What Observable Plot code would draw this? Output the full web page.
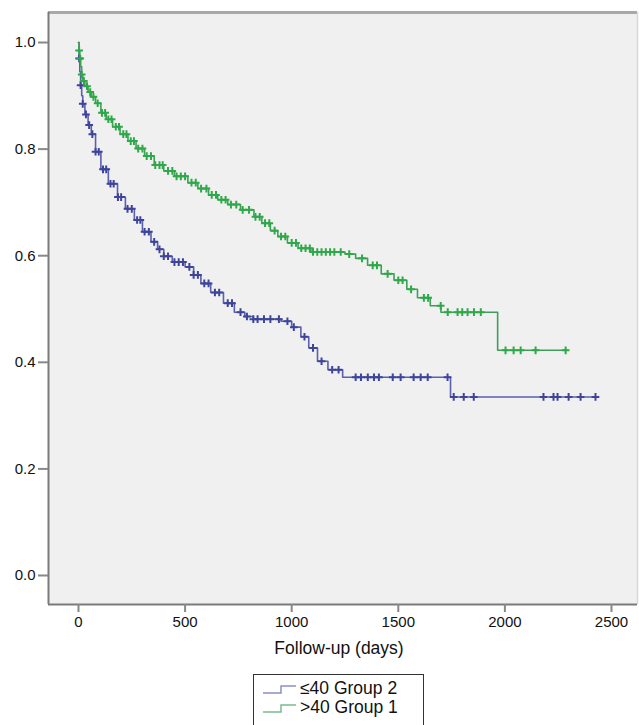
<!DOCTYPE html>
<html>
<head>
<meta charset="utf-8">
<script src="https://cdn.jsdelivr.net/npm/d3@7"></script>
<script src="https://cdn.jsdelivr.net/npm/@observablehq/plot@0.6"></script>
<style>
  body { margin: 0; background: #fff; font-family: "Liberation Sans", Arial, sans-serif; }
  #wrap { position: relative; width: 639px; height: 725px; overflow: hidden; }
  #legend { position: absolute; left: 253px; top: 674px; width: 171px; height: 60px;
            border: 1px solid #333; background: #fff; box-sizing: border-box;
            font-size: 17.5px; color: #111; padding-top: 4px; }
  #legend .row { height: 19px; line-height: 19px; display: flex; align-items: center; }
  #legend svg { margin-left: 9px; margin-right: 4px; }
</style>
</head>
<body>
<div id="wrap">
  <div id="chart"></div>
  <div id="legend"></div>
</div>
<script>
// ---- data ----
const groups = ["≤40 Group 2", ">40 Group 1"];
const colors = ["#3d4499", "#2fa84a"];
const lineColors = ["#5a60ac", "#3f9f58"];

// Group 2 (≤40) Kaplan–Meier steps
const g2Time = [0, 3, 6, 10, 15, 20, 30, 45, 60, 80, 105, 140, 183, 220, 262, 300, 340, 371, 400, 440, 500, 540, 574, 620, 680, 731, 780, 820, 950, 1000, 1043, 1080, 1121, 1170, 1239, 1745, 2434];
const g2Surv = [1.0, 0.97, 0.945, 0.92, 0.9, 0.885, 0.865, 0.845, 0.828, 0.795, 0.762, 0.735, 0.71, 0.688, 0.667, 0.645, 0.626, 0.612, 0.599, 0.588, 0.579, 0.564, 0.548, 0.531, 0.511, 0.494, 0.486, 0.481, 0.477, 0.466, 0.448, 0.427, 0.402, 0.386, 0.372, 0.335, 0.335];
const g2Censor = [3, 10, 20, 35, 50, 65, 80, 95, 115, 130, 150, 165, 185, 200, 230, 250, 275, 290, 310, 330, 355, 380, 400, 420, 450, 470, 490, 520, 540, 560, 590, 610, 640, 660, 700, 720, 760, 790, 820, 840, 870, 900, 940, 980, 1010, 1060, 1100, 1140, 1190, 1220, 1300, 1325, 1357, 1386, 1409, 1474, 1511, 1572, 1605, 1638, 1731, 1760, 1807, 1854, 2181, 2228, 2247, 2299, 2355, 2425];

// Group 1 (>40) Kaplan–Meier steps
const g1Time = [0, 3, 6, 10, 15, 20, 30, 45, 60, 80, 105, 130, 160, 195, 232, 270, 310, 355, 400, 450, 513, 560, 610, 653, 700, 760, 823, 860, 900, 935, 980, 1030, 1090, 1250, 1300, 1356, 1420, 1480, 1540, 1590, 1650, 1700, 1966, 2293];
const g1Surv = [1.0, 0.985, 0.97, 0.955, 0.94, 0.928, 0.918, 0.907, 0.898, 0.886, 0.868, 0.856, 0.842, 0.828, 0.815, 0.801, 0.787, 0.77, 0.759, 0.749, 0.737, 0.726, 0.714, 0.705, 0.696, 0.686, 0.673, 0.661, 0.647, 0.636, 0.624, 0.614, 0.607, 0.603, 0.595, 0.582, 0.566, 0.554, 0.537, 0.521, 0.506, 0.494, 0.4225, 0.4225];
const g1Censor = [3, 8, 15, 25, 40, 55, 70, 90, 110, 125, 140, 155, 175, 190, 210, 225, 245, 260, 280, 300, 320, 340, 360, 380, 395, 420, 440, 460, 480, 500, 530, 550, 575, 600, 625, 645, 670, 690, 715, 740, 770, 800, 830, 850, 875, 895, 920, 950, 970, 1000, 1020, 1045, 1065, 1085, 1100, 1120, 1140, 1160, 1180, 1200, 1230, 1270, 1330, 1380, 1400, 1450, 1500, 1520, 1560, 1620, 1640, 1699, 1732, 1778, 1800, 1825, 1855, 1887, 2003, 2041, 2074, 2144, 2285];

const xTicks = [0, 500, 1000, 1500, 2000, 2500];
const yTicks = [0.0, 0.2, 0.4, 0.6, 0.8, 1.0];
const xLabel = "Follow-up (days)";

// ---- build tables ----
function steps(times, surv, g) { return times.map((t, i) => ({t, s: surv[i], g})); }
function censors(ctimes, times, surv, g) {
  return ctimes.map(t => {
    const i = d3.bisectRight(times, t) - 1;
    return {t, s: surv[Math.max(0, i)], g};
  });
}
const lines = [...steps(g2Time, g2Surv, groups[0]), ...steps(g1Time, g1Surv, groups[1])];
const marks = [...censors(g2Censor, g2Time, g2Surv, groups[0]), ...censors(g1Censor, g1Time, g1Surv, groups[1])];

const chart = Plot.plot({
  width: 639,
  height: 668,
  marginLeft: 48,
  marginRight: 2,
  marginTop: 12,
  marginBottom: 64,
  style: {fontFamily: "'Liberation Sans', Arial, sans-serif", fontSize: "15px", color: "#111", background: "#fff"},
  x: {domain: [-140.7, 2622], ticks: xTicks, tickSize: 8, tickPadding: 4, label: null, tickFormat: d => String(d)},
  y: {domain: [-0.0544, 1.0563], ticks: yTicks, tickSize: 10, tickPadding: 3, label: null, tickFormat: d3.format(".1f")},
  color: {domain: groups, range: colors},
  marks: [
    Plot.frame({fill: "#f0f0f0", stroke: null}),
    Plot.ruleY([1.0563], {stroke: "#a8a8a8", strokeWidth: 3}),
    Plot.ruleX([2622], {stroke: "#d8d8d8", strokeWidth: 1.5}),
    Plot.ruleX([-140.7], {stroke: "#7a7a7a", strokeWidth: 2}),
    Plot.ruleY([-0.0544], {stroke: "#7a7a7a", strokeWidth: 2}),
    Plot.axisX({ticks: xTicks, tickSize: 8, tickPadding: 4, stroke: "#888", strokeWidth: 2, tickFormat: d => String(d)}),
    Plot.axisY({ticks: yTicks, tickSize: 10, tickPadding: 3, stroke: "#888", strokeWidth: 2, tickFormat: d3.format(".1f")}),
    Plot.line(lines, {x: "t", y: "s", z: "g", stroke: d => d.g === groups[0] ? lineColors[0] : lineColors[1], curve: "step-after", strokeWidth: 1.6}),
    Plot.dot(marks, {x: "t", y: "s", stroke: "g", symbol: "plus", r: 2.6, strokeWidth: 2}),
    Plot.text([xLabel], {frameAnchor: "bottom", dy: 49, dx: -4, text: d => d, fontSize: 17.5, fill: "#111"})
  ]
});
document.getElementById("chart").appendChild(chart);

// legend
const legend = document.getElementById("legend");
groups.forEach((g, i) => {
  const row = document.createElement("div");
  row.className = "row";
  row.innerHTML = `<svg width="33" height="12"><polyline points="0,10 18,10 18,3 33,3" fill="none" stroke="${lineColors[i]}" stroke-width="1.5" opacity="0.7"/></svg><span>${g}</span>`;
  legend.appendChild(row);
});
</script>
</body>
</html>
